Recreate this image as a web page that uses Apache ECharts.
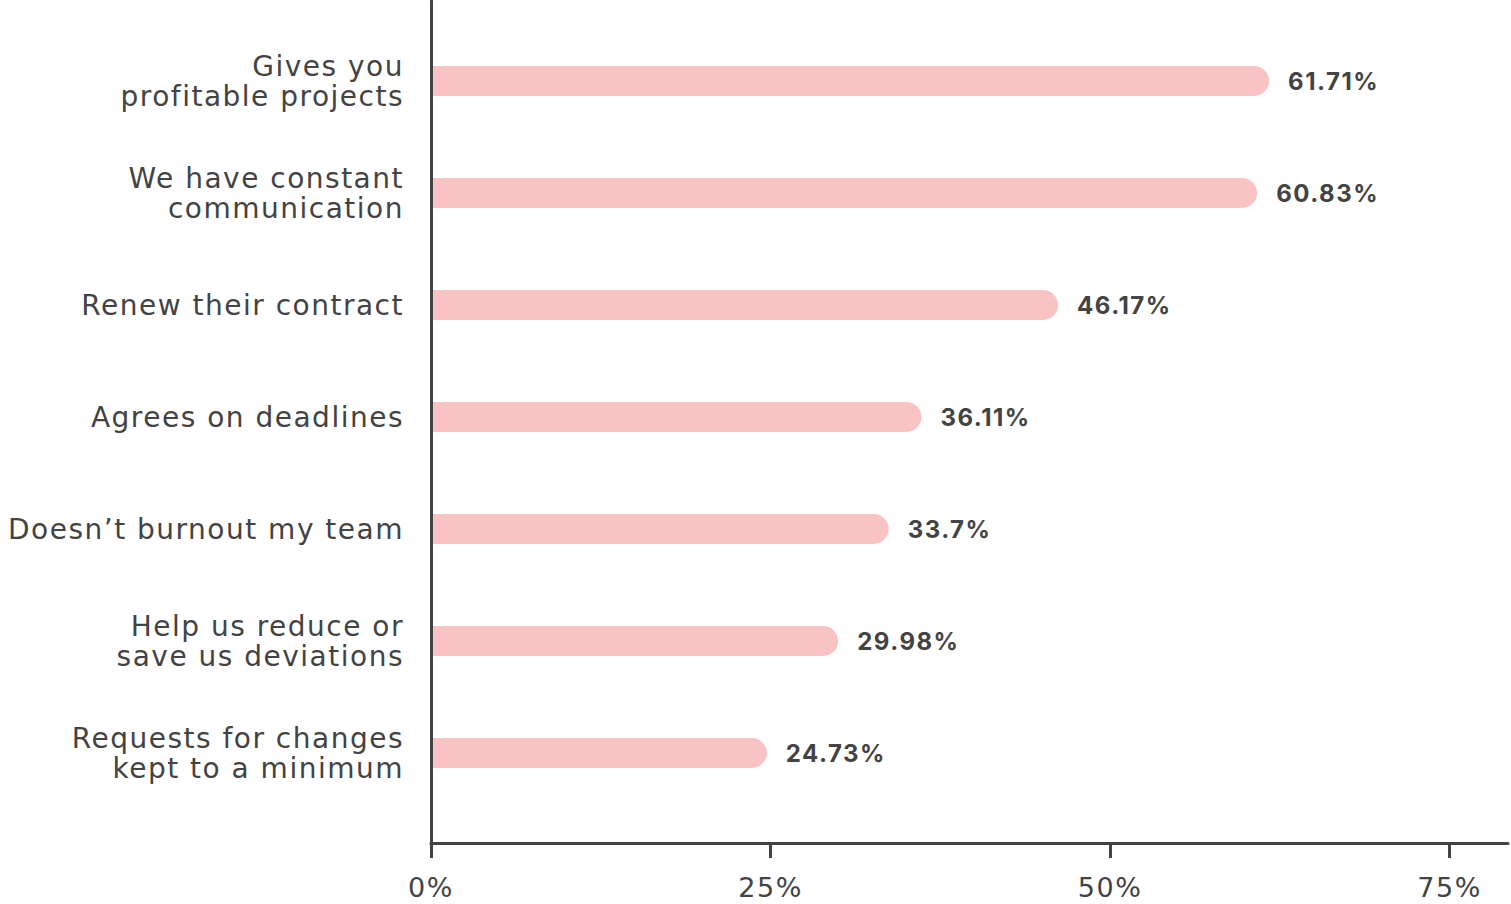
<!DOCTYPE html>
<html>
<head>
<meta charset="utf-8">
<script src="https://cdn.jsdelivr.net/npm/echarts@6/dist/echarts.min.js"></script>
<style>
  html, body { margin: 0; padding: 0; background: #ffffff; }
  #chart { width: 1511px; height: 904px; }
  /* slightly open tracking for all chart text */
  #chart text { letter-spacing: 1.5px; }
</style>
</head>
<body>
<div id="chart"></div>
<script>
// Survey answers, top to bottom
const categories = [
  'Gives you\nprofitable projects',
  'We have constant\ncommunication',
  'Renew their contract',
  'Agrees on deadlines',
  'Doesn\u2019t burnout my team',
  'Help us reduce or\nsave us deviations',
  'Requests for changes\nkept to a minimum'
];
const shares = [61.71, 60.83, 46.17, 36.11, 33.7, 29.98, 24.73];
const tickValues = [0, 25, 50, 75];

const FONT = '"DejaVu Sans", "Open Sans", sans-serif';
const VALUE_FONT = 'Inter, "Open Sans", sans-serif';
const INK = '#434343';
const X_MAX = 79.3;

const chart = echarts.init(document.getElementById('chart'), null, { renderer: 'svg' });

chart.setOption({
  animation: false,
  backgroundColor: '#ffffff',
  grid: [
    // bars and category labels
    { left: 431, right: 3, top: 25, bottom: 95 },
    // frame: vertical line and the percentage axis
    { left: 431, right: 3, top: 1, bottom: 61 }
  ],
  xAxis: [
    { gridIndex: 0, type: 'value', min: 0, max: X_MAX, show: false },
    {
      gridIndex: 1, type: 'value', min: 0, max: X_MAX,
      axisLine: { show: true, lineStyle: { color: INK, width: 3 } },
      axisTick: { show: true, length: 15, lineStyle: { color: INK, width: 3 }, customValues: tickValues },
      axisLabel: {
        customValues: tickValues,
        formatter: '{value}%',
        margin: 31,
        fontFamily: FONT, fontSize: 27, color: INK
      },
      splitLine: { show: false }
    }
  ],
  yAxis: [
    {
      gridIndex: 0, type: 'category', data: categories, inverse: true,
      axisLine: { show: false }, axisTick: { show: false },
      axisLabel: {
        margin: 27, fontFamily: FONT, fontSize: 28, lineHeight: 30,
        color: INK, align: 'right'
      }
    },
    {
      gridIndex: 1, type: 'value', z: 5,
      axisLine: { show: true, lineStyle: { color: INK, width: 3 } },
      axisTick: { show: false }, axisLabel: { show: false },
      splitLine: { show: false }
    }
  ],
  series: [{
    type: 'bar',
    xAxisIndex: 0, yAxisIndex: 0,
    data: shares,
    barWidth: 30,
    itemStyle: { color: '#f9c3c4', borderRadius: [0, 15, 15, 0] },
    label: {
      show: true, position: 'right', distance: 19,
      formatter: p => p.value + '%',
      fontFamily: VALUE_FONT, fontSize: 24, fontWeight: 'bold', color: INK
    }
  }]
});
</script>
</body>
</html>
